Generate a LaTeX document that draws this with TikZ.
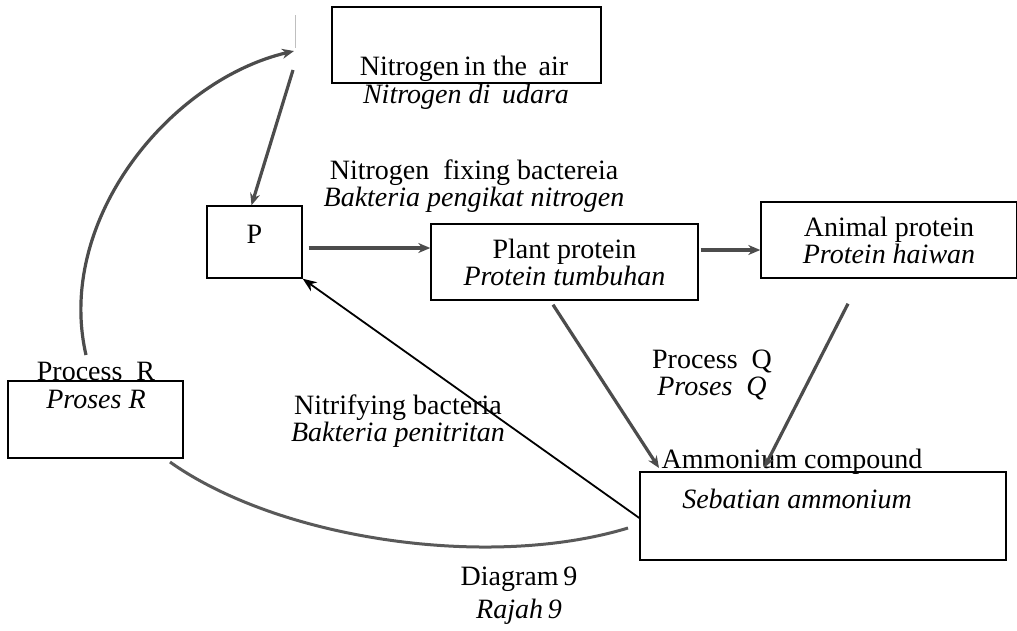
\documentclass[tikz,border=0pt]{standalone}
\usepackage{fontspec}
\setmainfont{Liberation Serif}
\usetikzlibrary{arrows.meta}
\begin{document}
\begin{tikzpicture}[x=1pt,y=-1pt,
  box/.style={draw,line width=1.4pt,inner sep=0pt},
  lbl/.style={inner sep=0pt,align=center,font=\fontsize{28}{27}\selectfont},
  garrow/.style={draw=black!70,line width=3.2pt,-{Stealth[length=12pt,width=10pt]}},
  gline/.style={draw=black!65,line width=3pt},
  barrow/.style={draw=black,line width=1.8pt,-{Stealth[length=14pt,width=11pt]}}]
\useasboundingbox (0,0) rectangle (1017,630);
% boxes
\node[box,minimum width=269pt,minimum height=76pt] (air) at (466.5,45) {};
\node[box,minimum width=95pt,minimum height=72pt] (P) at (254.5,242) {};
\node[box,minimum width=267pt,minimum height=76pt,lbl] (plant) at (564.5,262) {Plant protein\\\textit{Protein tumbuhan}};
\node[box,minimum width=256pt,minimum height=76pt,lbl] (animal) at (889,240) {Animal protein\\\textit{Protein haiwan}};
\node[box,minimum width=175pt,minimum height=77pt] (R) at (95.5,419.5) {};
\node[box,minimum width=366pt,minimum height=88pt] (amm) at (823,516) {};
% texts
\node[lbl] (airt) at (464,69) {Nitrogen\,in the\, air};
\node[lbl] (airm) at (466,97) {\textit{Nitrogen di\, udara}};
\node[lbl] (Pt) at (254.5,234) {P};
\node[lbl] (fix) at (474,186) {Nitrogen\ \ fixing bactereia\\\textit{Bakteria pengikat nitrogen}};
\node[lbl] (q) at (712,375) {Process\ \ Q\\\textit{Proses\ \ Q}};
\node[lbl] (rt) at (96,371) {Process\ \ R};
\node[lbl] (rm) at (96,399) {\textit{Proses R}};
\node[lbl] (nitr) at (398,421) {Nitrifying bacteria\\\textit{Bakteria penitritan}};
\node[lbl] (ammt) at (792,462) {Ammonium compound};
\node[lbl] (ammm) at (797,499) {\textit{Sebatian ammonium}};
\node[lbl,font=\fontsize{28}{33}\selectfont] (cap) at (519,596) {Diagram\,9\\\textit{Rajah\,9}};
% free ends
\coordinate (top) at (294,51);
\coordinate (topb) at (293,70);
\coordinate (rs) at (86,355);
\coordinate (re) at (170,462);
\coordinate (ae) at (628,528);
% connectors
\draw[black!25,line width=1pt] (295,15) -- (295,48);
\draw[garrow] (rs) .. controls (55,220) and (170,80) .. (top);
\draw[garrow] (topb) -- ([xshift=-3pt]P.north);
\draw[garrow] ([xshift=6pt,yshift=-6pt]P.east) -- ([yshift=-6pt]P.east -| plant.west);
\draw[garrow] ([xshift=2pt,yshift=12pt]plant.east) -- ([yshift=12pt]plant.east -| animal.west);
\draw[garrow] ([xshift=-11.5pt,yshift=-4pt]plant.south) -- (659,468);
\draw[garrow] ([xshift=-41pt,yshift=-25pt]animal.south) -- (764,468);
\draw[barrow] ([yshift=-2pt]amm.west) -- (P.south east);
\draw[gline] (re) .. controls (280,540) and (490,570) .. (ae);
\end{tikzpicture}
\end{document}
